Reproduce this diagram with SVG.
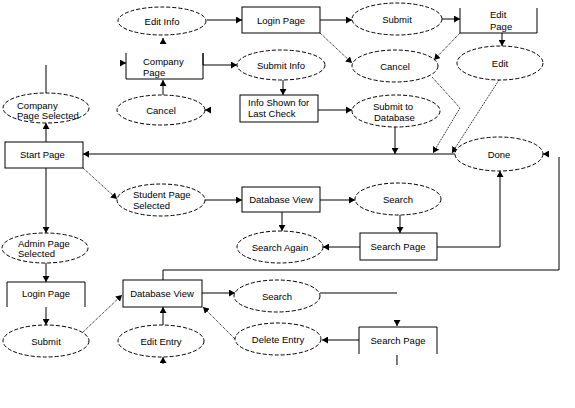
<svg xmlns="http://www.w3.org/2000/svg" width="575" height="408" viewBox="0 0 575 408">
<style>
.e{fill:#fff;stroke:#000;stroke-width:1;stroke-dasharray:4,2}
.b{fill:#fff;stroke:#000;stroke-width:1}
.o{fill:none;stroke:#000;stroke-width:1}
.t{font-family:"Liberation Sans",Arial,sans-serif;font-size:9.5px;fill:#000}
.c{text-anchor:middle}
.s{fill:none;stroke:#000;stroke-width:1}
.d{fill:none;stroke:#000;stroke-width:1;stroke-dasharray:1,1}
.a{marker-end:url(#ah)}
</style>
<defs>
<marker id="ah" viewBox="0 0 6 7" refX="6" refY="3.5" markerWidth="6" markerHeight="7" markerUnits="userSpaceOnUse" orient="auto">
<path d="M0,0 L6,3.5 L0,7 z" fill="#000"/>
</marker>
</defs>
<rect width="575" height="408" fill="#fff"/>
<g id="connectors">
<path class="s a" d="M207,20 L242,20"/>
<path class="s a" d="M320,20 L352,20"/>
<path class="d a" d="M320,33 L352,63"/>
<path class="s a" d="M442,19 L460,19"/>
<path class="s a" d="M502,33 L502,46"/>
<path class="d a" d="M460,33 L434,60"/>
<path class="s a" d="M163,44 L163,38"/>
<path class="s a" d="M203,65 L237,65"/>
<path class="s" d="M203,53 L203,65"/>
<path class="s a" d="M163,95 L163,80"/>
<path class="s a" d="M121,63 L126,63"/>
<path class="s a" d="M211,110 L205,110"/>
<path class="s a" d="M283,80 L283,95"/>
<path class="s a" d="M318,110 L352,110"/>
<path class="s a" d="M395,127 L395,154"/>
<path class="d a" d="M432,77 L460,108 L433,153"/>
<path class="d a" d="M499,80 L452,153"/>
<path class="s a" d="M455,154 L83,154"/>
<path class="s a" d="M549,154 L543,154"/>
<path class="s a" d="M437,247 L500,247 L500,171"/>
<path class="s" d="M46,65 L46,93"/>
<path class="s a" d="M46,142 L46,123"/>
<path class="d a" d="M83,168 L117,199"/>
<path class="s a" d="M46,168 L46,233"/>
<path class="s a" d="M205,200 L242,200"/>
<path class="s a" d="M320,200 L355,200"/>
<path class="s a" d="M282,212 L282,231"/>
<path class="s a" d="M400,215 L400,233"/>
<path class="s a" d="M360,247 L323,247"/>
<path class="s a" d="M46,263 L46,282"/>
<path class="s a" d="M46,307 L46,325"/>
<path class="d a" d="M83,332 L122,295"/>
<path class="s" d="M163,280 L163,270 L559,270 L559,157"/>
<path class="s a" d="M202,293 L235,293"/>
<path class="s" d="M320,293 L397,293"/>
<path class="s a" d="M397,320 L397,326"/>
<path class="s" d="M397,355 L397,365"/>
<path class="s a" d="M359,340 L322,340"/>
<path class="d a" d="M235,339 L203,307"/>
<path class="s a" d="M163,325 L163,307"/>
<path class="s a" d="M163,364 L163,357"/>
</g>
<g id="editInfo"><ellipse class="e" cx="162" cy="21" rx="44" ry="14"/><text class="t c" x="162" y="25">Edit Info</text></g>
<g id="loginPageTop"><rect class="b" x="242" y="7" width="78" height="26"/><text class="t c" x="281" y="24">Login Page</text></g>
<g id="submitTop"><ellipse class="e" cx="397" cy="19" rx="45" ry="16"/><text class="t c" x="397" y="23">Submit</text></g>
<g id="editPage"><path class="o" d="M460,8 L460,33 L537,33 L537,8"/><text class="t" x="490" y="18">Edit</text><text class="t" x="490" y="30">Page</text></g>
<g id="companyPage"><path class="o" d="M126,53 L126,79 L203,79 L203,53"/><text class="t" x="143" y="65">Company</text><text class="t" x="143" y="76">Page</text></g>
<g id="submitInfo"><ellipse class="e" cx="281" cy="65" rx="44" ry="15"/><text class="t c" x="281" y="69">Submit Info</text></g>
<g id="cancelTop"><ellipse class="e" cx="395" cy="66" rx="43" ry="16"/><text class="t c" x="395" y="70">Cancel</text></g>
<g id="edit"><ellipse class="e" cx="500" cy="63" rx="43" ry="17"/><text class="t c" x="500" y="67">Edit</text></g>
<g id="companyPageSelected"><ellipse class="e" cx="46" cy="108" rx="43" ry="15"/><text class="t" x="17" y="109">Company</text><text class="t" x="17" y="119">Page Selected</text></g>
<g id="cancelLeft"><ellipse class="e" cx="161" cy="110" rx="44" ry="15"/><text class="t c" x="161" y="114">Cancel</text></g>
<g id="infoShown"><rect class="b" x="240" y="95" width="78" height="27"/><text class="t" x="248" y="106">Info Shown for</text><text class="t" x="248" y="117">Last Check</text></g>
<g id="submitToDatabase"><ellipse class="e" cx="396" cy="111" rx="44" ry="16"/><text class="t" x="373" y="110">Submit to</text><text class="t" x="374" y="121">Database</text></g>
<g id="startPage"><rect class="b" x="5" y="142" width="78" height="26"/><text class="t" x="20" y="158">Start Page</text></g>
<g id="done"><ellipse class="e" cx="499" cy="154" rx="44" ry="17"/><text class="t c" x="499" y="158">Done</text></g>
<g id="studentPageSelected"><ellipse class="e" cx="161" cy="200" rx="44" ry="16"/><text class="t" x="133" y="198">Student Page</text><text class="t" x="133" y="209">Selected</text></g>
<g id="dbViewMid"><rect class="b" x="242" y="187" width="78" height="25"/><text class="t c" x="281" y="203">Database View</text></g>
<g id="searchMid"><ellipse class="e" cx="398" cy="199" rx="43" ry="16"/><text class="t c" x="398" y="203">Search</text></g>
<g id="searchAgain"><ellipse class="e" cx="280" cy="247" rx="43" ry="16"/><text class="t c" x="280" y="251">Search Again</text></g>
<g id="searchPageMid"><rect class="b" x="360" y="233" width="77" height="27"/><text class="t c" x="398" y="250">Search Page</text></g>
<g id="adminPageSelected"><ellipse class="e" cx="45" cy="248" rx="43" ry="15"/><text class="t" x="18" y="247">Admin Page</text><text class="t" x="18" y="257">Selected</text></g>
<g id="loginPageBottom"><path class="o" d="M7,307 L7,282 L85,282 L85,307"/><text class="t c" x="46" y="297">Login Page</text></g>
<g id="submitBottom"><ellipse class="e" cx="46" cy="341" rx="43" ry="16"/><text class="t c" x="46" y="345">Submit</text></g>
<g id="dbViewBottom"><rect class="b" x="123" y="280" width="79" height="27"/><text class="t c" x="162" y="297">Database View</text></g>
<g id="editEntry"><ellipse class="e" cx="161" cy="341" rx="43" ry="16"/><text class="t c" x="161" y="345">Edit Entry</text></g>
<g id="searchBottom"><ellipse class="e" cx="277" cy="296" rx="43" ry="16"/><text class="t c" x="277" y="300">Search</text></g>
<g id="deleteEntry"><ellipse class="e" cx="278" cy="339" rx="43" ry="16"/><text class="t c" x="278" y="343">Delete Entry</text></g>
<g id="searchPageBottom"><path class="o" d="M359,354 L359,327 L437,327 L437,354"/><text class="t c" x="398" y="344">Search Page</text></g>
</svg>
